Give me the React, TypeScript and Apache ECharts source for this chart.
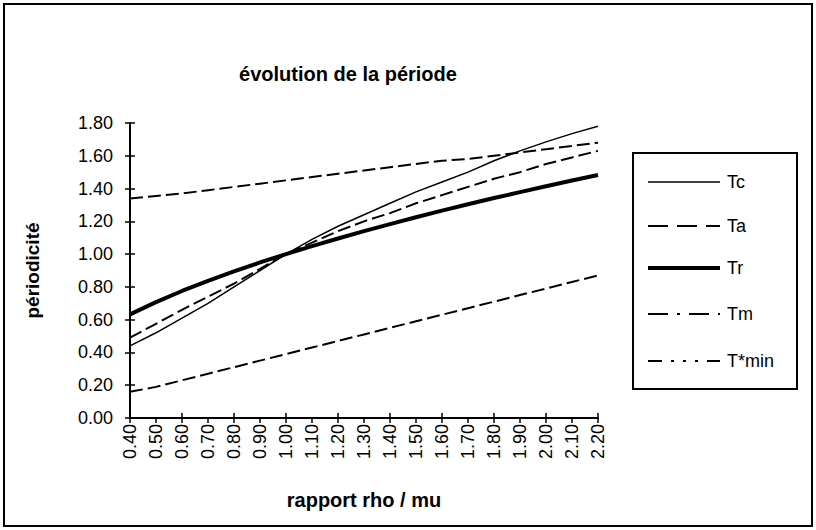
import React, { useEffect, useRef } from "react";
import * as echarts from "echarts";

const categories = ["0.40","0.50","0.60","0.70","0.80","0.90","1.00","1.10","1.20","1.30","1.40","1.50","1.60","1.70","1.80","1.90","2.00","2.10","2.20"];
const Tc = [0.44,0.52,0.61,0.70,0.80,0.90,1.00,1.09,1.17,1.24,1.31,1.38,1.44,1.50,1.57,1.63,1.685,1.735,1.78];
const Ta = [0.49,0.575,0.66,0.74,0.82,0.91,1.00,1.07,1.14,1.20,1.25,1.31,1.36,1.41,1.46,1.50,1.55,1.59,1.63];
const Tr = [0.632,0.707,0.775,0.837,0.894,0.949,1.0,1.049,1.095,1.140,1.183,1.225,1.265,1.304,1.342,1.378,1.414,1.449,1.483];
const Tm = [1.34,1.355,1.37,1.39,1.41,1.43,1.45,1.47,1.49,1.51,1.53,1.55,1.57,1.58,1.60,1.62,1.64,1.66,1.68];
const Tmin = [0.16,0.19,0.23,0.27,0.31,0.35,0.39,0.43,0.47,0.51,0.55,0.59,0.63,0.67,0.71,0.75,0.79,0.83,0.87];
const yTicks = { min: 0, max: 1.8, interval: 0.2 };
const legendNames = ["Tc", "Ta", "Tr", "Tm", "T*min"];

const FONT = "'Liberation Sans', Arial, sans-serif";

export default function App() {
  const ref = useRef<HTMLDivElement>(null);
  useEffect(() => {
    if (!ref.current) return;
    const chart = echarts.init(ref.current, null, { renderer: "svg" });
    const dash = [13, 5];
    const legendStyles = [
      { lineWidth: 1.5, lineDash: null },
      { lineWidth: 2, lineDash: [20, 9] },
      { lineWidth: 4, lineDash: null },
      { lineWidth: 2, lineDash: [20, 9, 3, 9] },
      { lineWidth: 2, lineDash: [14, 9, 3, 9, 3, 9, 3, 9] },
    ];
    const legendY = [182, 226, 268, 314, 361];
    const legendGraphics: any[] = [
      { type: "rect", shape: { x: 633, y: 153, width: 164, height: 236 }, style: { fill: "#fff", stroke: "#000", lineWidth: 2 } },
    ];
    legendNames.forEach((n, i) => {
      legendGraphics.push({
        type: "line",
        shape: { x1: 648, y1: legendY[i], x2: 720, y2: legendY[i] },
        style: { stroke: "#000", lineWidth: legendStyles[i].lineWidth, lineDash: legendStyles[i].lineDash || undefined },
      });
      legendGraphics.push({
        type: "text",
        x: 727,
        y: legendY[i],
        style: { text: n, fill: "#000", font: `18px ${FONT}`, textVerticalAlign: "middle", verticalAlign: "middle" },
      });
    });

    const axisLbl = { color: "#000", fontFamily: FONT, fontSize: 18 };
    chart.setOption({
      animation: false,
      backgroundColor: "#fff",
      title: {
        text: "évolution de la période",
        left: 343,
        top: 59,
        textAlign: "center",
        textStyle: { fontFamily: FONT, fontWeight: "bold", fontSize: 20, color: "#000" },
      },
      grid: { left: 130, right: 218, top: 123, bottom: 112 },
      xAxis: [
        {
          type: "category",
          data: categories,
          boundaryGap: false,
          name: "rapport rho / mu",
          nameLocation: "middle",
          nameGap: 72,
          nameTextStyle: { fontFamily: FONT, fontWeight: "bold", fontSize: 20, color: "#000" },
          axisLine: { lineStyle: { color: "#000", width: 2 } },
          axisTick: { show: true, inside: false, length: 5, lineStyle: { color: "#000", width: 1.5 } },
          axisLabel: { ...axisLbl, rotate: 90, margin: 6, interval: 0 },
          splitLine: { show: false },
        },
        {
          type: "category",
          data: categories,
          boundaryGap: false,
          position: "bottom",
          axisLine: { show: false },
          axisTick: { show: true, inside: true, length: 5, lineStyle: { color: "#000", width: 1.5 } },
          axisLabel: { show: false },
          splitLine: { show: false },
        },
      ],
      yAxis: [
        {
          type: "value",
          ...yTicks,
          name: "périodicité",
          nameLocation: "middle",
          nameGap: 88,
          nameTextStyle: { fontFamily: FONT, fontWeight: "bold", fontSize: 19, color: "#000" },
          axisLine: { show: true, lineStyle: { color: "#000", width: 2 } },
          axisTick: { show: true, inside: false, length: 5, lineStyle: { color: "#000", width: 1.5 } },
          axisLabel: { ...axisLbl, margin: 17, formatter: (v: number) => v.toFixed(2) },
          splitLine: { show: false },
        },
        {
          type: "value",
          ...yTicks,
          position: "left",
          axisLine: { show: false },
          axisTick: { show: true, inside: true, length: 5, lineStyle: { color: "#000", width: 1.5 } },
          axisLabel: { show: false },
          splitLine: { show: false },
        },
      ],
      series: [
        { name: "Tc", type: "line", data: Tc, showSymbol: false, lineStyle: { color: "#000", width: 1.5 } },
        { name: "Ta", type: "line", data: Ta, showSymbol: false, lineStyle: { color: "#000", width: 2, type: dash } },
        { name: "Tr", type: "line", data: Tr, showSymbol: false, lineStyle: { color: "#000", width: 4 } },
        { name: "Tm", type: "line", data: Tm, showSymbol: false, lineStyle: { color: "#000", width: 2, type: dash } },
        { name: "T*min", type: "line", data: Tmin, showSymbol: false, lineStyle: { color: "#000", width: 2, type: dash } },
      ],
      graphic: [
        { type: "rect", shape: { x: 4, y: 4, width: 808, height: 522 }, style: { fill: "none", stroke: "#000", lineWidth: 2 } },
        ...legendGraphics,
      ],
    });
    return () => chart.dispose();
  }, []);
  return <div ref={ref} style={{ width: 816, height: 530, position: "absolute", left: 0, top: 0 }} />;
}
